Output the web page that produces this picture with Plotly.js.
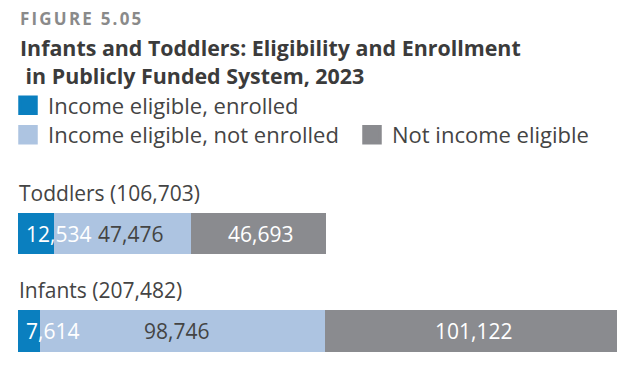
<!DOCTYPE html>
<html>
<head>
<meta charset="utf-8">
<script src="https://cdn.plot.ly/plotly-3.0.1.min.js"></script>
<style>html,body{margin:0;padding:0;background:#fff;}#chart{width:630px;height:375px;}</style>
</head>
<body>
<div id="chart"></div>
<script>
// ---- data ----
const categories = ['Toddlers', 'Infants'];
const seriesNames = ['Income eligible, enrolled', 'Income eligible, not enrolled', 'Not income eligible'];
const enrolled = [12534, 7614];
const notEnrolled = [47476, 98746];
const notEligible = [46693, 101122];
const figureLabel = 'FIGURE 5.05';
const titleLines = ['Infants and Toddlers: Eligibility and Enrollment', 'in Publicly Funded System, 2023'];

// ---- styles ----
const colors = ['#0a7fbf', '#adc4e1', '#8a8b8f'];
const labelColors = ['#ffffff', '#444444', '#ffffff'];
const FONT = '"Open Sans", sans-serif';
const TEXT = '#444444';

const series = [enrolled, notEnrolled, notEligible];
const totals = categories.map((c, i) => series.reduce((s, arr) => s + arr[i], 0));
const fmt = v => v.toLocaleString('en-US');

const traces = series.map((vals, k) => ({
  type: 'bar',
  orientation: 'h',
  name: seriesNames[k],
  x: vals,
  y: categories,
  marker: {color: colors[k], line: {width: 0}},
  showlegend: false,
  hoverinfo: 'x+name'
}));

// legend entries (square swatches)
seriesNames.forEach((n, k) => {
  traces.push({
    type: 'scatter', mode: 'markers', name: n,
    x: [null], y: [null],
    marker: {symbol: 'square', size: 16, color: colors[k], line: {width: 3.5, color: colors[k]}},
    legend: k === 0 ? 'legend' : 'legend2',
    legendwidth: k === 1 ? 299 : undefined,
    hoverinfo: 'skip'
  });
});

const annotations = [];
// FIGURE label
annotations.push({
  xref: 'paper', yref: 'paper', x: 0, y: 1.7395, xanchor: 'left', yanchor: 'middle', xshift: 0,
  showarrow: false,
  text: '<span style="letter-spacing:2.2px">' + figureLabel + '</span>',
  font: {family: FONT, size: 17, color: '#8a8a8a', weight: 'bold'}
});
// category labels + segment value labels
const midShift = [8, -6];
categories.forEach((c, i) => {
  annotations.push({
    xref: 'x', yref: 'y', x: 0, y: c, xanchor: 'left', yanchor: 'middle',
    yshift: 41, xshift: -1, showarrow: false,
    text: c + ' (' + fmt(totals[i]) + ')',
    font: {family: FONT, size: 21, color: TEXT}
  });
  let start = 0;
  series.forEach((arr, k) => {
    const v = arr[i];
    const a = {
      xref: 'x', yref: 'y', y: c, yanchor: 'middle', showarrow: false,
      text: fmt(v),
      font: {family: FONT, size: 21, color: labelColors[k]}
    };
    if (k === 0) { a.x = start; a.xanchor = 'left'; a.xshift = 6; }
    else { a.x = start + v / 2; a.xanchor = 'center'; a.xshift = k === 1 ? midShift[i] : 2; }
    annotations.push(a);
    start += v;
  });
});

const layout = {
  width: 630, height: 375,
  paper_bgcolor: '#ffffff', plot_bgcolor: '#ffffff',
  margin: {l: 18, r: 13, t: 170, b: 0, autoexpand: false},
  barmode: 'stack',
  bargap: 0.5725,
  font: {family: FONT, color: TEXT},
  title: {
    text: '<b>' + titleLines[0] + '</b><br><b>&nbsp;' + titleLines[1] + '</b>',
    font: {family: FONT, size: 21.4, color: '#3b3b3b'},
    xref: 'container', yref: 'container',
    x: 20 / 630, xanchor: 'left',
    y: 1 - 56 / 375, yanchor: 'top'
  },
  xaxis: {range: [0, Math.max(...totals)], visible: false, fixedrange: true},
  yaxis: {
    type: 'category', categoryorder: 'array', categoryarray: ['Infants', 'Toddlers'],
    range: [-0.4543, 1.6526], visible: false, fixedrange: true
  },
  legend: {
    xref: 'container', yref: 'container',
    x: 8 / 630, xanchor: 'left', y: 1 - 105.5 / 375, yanchor: 'middle',
    orientation: 'v', font: {family: FONT, size: 22, color: TEXT},
    bgcolor: 'rgba(0,0,0,0)', borderwidth: 0
  },
  legend2: {
    xref: 'container', yref: 'container',
    x: 8 / 630, xanchor: 'left', y: 1 - 135 / 375, yanchor: 'middle',
    orientation: 'h', font: {family: FONT, size: 22, color: TEXT},
    bgcolor: 'rgba(0,0,0,0)', borderwidth: 0
  },
  annotations: annotations,
  showlegend: true
};

Plotly.newPlot('chart', traces, layout, {displayModeBar: false, staticPlot: true});
</script>
</body>
</html>
